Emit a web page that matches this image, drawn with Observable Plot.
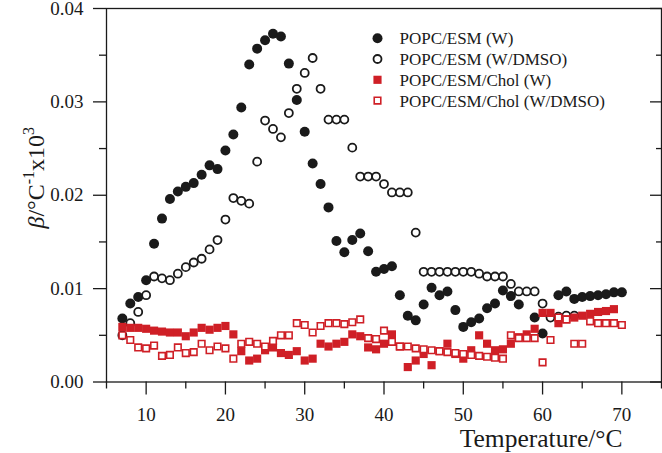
<!DOCTYPE html>
<html>
<head>
<meta charset="utf-8">
<script src="https://cdn.jsdelivr.net/npm/d3@7"></script>
<script src="https://cdn.jsdelivr.net/npm/@observablehq/plot@0.6"></script>
<style>
  html, body { margin: 0; padding: 0; background: white; }
</style>
</head>
<body>
<div id="chart"></div>
<script>
// ---- Data ----
const seriesNames = ["POPC/ESM (W)", "POPC/ESM (W/DMSO)", "POPC/ESM/Chol (W)", "POPC/ESM/Chol (W/DMSO)"];

const tempW = [7,8,9,10,11,12,13,14,15,16,17,18,19,20,21,22,23,24,25,26,27,28,29,30,31,32,33,34,35,36,37,38,39,40,41,42,43,44,45,46,47,48,49,50,51,52,53,54,55,56,57,59,60,62,63,64,65,66,67,68,69,70];
const betaW = [0.0068,0.0084,0.0091,0.0109,0.0148,0.0175,0.0196,0.0204,0.0209,0.0213,0.0222,0.0232,0.0228,0.0248,0.0265,0.0294,0.0340,0.0357,0.0366,0.0373,0.0370,0.0341,0.0302,0.0268,0.0234,0.0212,0.0187,0.0151,0.0139,0.0152,0.0159,0.0140,0.0118,0.0121,0.0124,0.0093,0.0071,0.0066,0.0083,0.0101,0.0093,0.0097,0.0077,0.0059,0.0064,0.0068,0.0079,0.0084,0.0098,0.0092,0.0083,0.0069,0.0052,0.0093,0.0097,0.0089,0.0091,0.0092,0.0093,0.0094,0.0096,0.0096];

const tempWD = [7,8,9,10,11,12,13,14,15,16,17,18,19,20,21,22,23,24,25,26,27,28,29,30,31,32,33,34,35,36,37,38,39,40,41,42,43,44,45,46,47,48,49,50,51,52,53,54,55,56,57,58,59,60,61,62,63,64];
const betaWD = [0.0050,0.0063,0.0075,0.0093,0.0113,0.0111,0.0109,0.0116,0.0123,0.0128,0.0132,0.0142,0.0152,0.0174,0.0197,0.0194,0.0191,0.0236,0.0280,0.0271,0.0262,0.0288,0.0314,0.0331,0.0347,0.0314,0.0281,0.0281,0.0281,0.0251,0.0220,0.0220,0.0220,0.0212,0.0203,0.0203,0.0203,0.0160,0.0118,0.0118,0.0118,0.0118,0.0118,0.0118,0.0118,0.0116,0.0113,0.0113,0.0113,0.0105,0.0097,0.0097,0.0097,0.0084,0.0069,0.0070,0.0071,0.0071];

const tempCW = [7,8,9,10,11,12,13,14,15,16,17,18,19,20,21,22,23,24,25,26,27,28,29,30,31,32,33,34,35,36,37,38,39,40,41,42,43,44,45,46,47,48,49,50,51,52,53,54,55,56,57,58,59,60,61,62,63,64,65,66,67,68,69];
const betaCW = [0.0059,0.0058,0.0058,0.0057,0.0055,0.0054,0.0053,0.0053,0.0049,0.0053,0.0058,0.0056,0.0058,0.0060,0.0051,0.0033,0.0023,0.0025,0.0034,0.0037,0.0031,0.0029,0.0033,0.0023,0.0025,0.0041,0.0038,0.0041,0.0043,0.0051,0.0049,0.0037,0.0035,0.0041,0.0051,0.0038,0.0016,0.0023,0.0030,0.0018,0.0033,0.0041,0.0030,0.0025,0.0034,0.0050,0.0041,0.0034,0.0035,0.0041,0.0048,0.0051,0.0057,0.0074,0.0074,0.0063,0.0067,0.0069,0.0071,0.0073,0.0075,0.0076,0.0078];

const tempCWD = [7,8,9,10,11,12,13,14,15,16,17,18,19,20,21,22,23,24,25,26,27,28,29,30,31,32,33,34,35,36,37,38,39,40,41,42,43,44,45,46,47,48,49,50,51,52,53,54,55,56,57,58,59,60,61,62,63,64,65,66,67,68,69,70];
const betaCWD = [0.0050,0.0045,0.0037,0.0036,0.0039,0.0028,0.0029,0.0037,0.0031,0.0032,0.0041,0.0034,0.0038,0.0036,0.0025,0.0041,0.0043,0.0041,0.0038,0.0044,0.0050,0.0050,0.0063,0.0061,0.0053,0.0060,0.0063,0.0063,0.0062,0.0064,0.0067,0.0047,0.0046,0.0055,0.0043,0.0038,0.0038,0.0036,0.0035,0.0034,0.0033,0.0032,0.0031,0.0030,0.0029,0.0028,0.0027,0.0026,0.0025,0.0050,0.0047,0.0047,0.0047,0.0021,0.0045,0.0069,0.0067,0.0041,0.0041,0.0065,0.0063,0.0063,0.0063,0.0061];

const xMajorTicks = [10,20,30,40,50,60,70];
const xMinorTicks = [5,15,25,35,45,55,65,75];
const yMajorTicks = [0,0.01,0.02,0.03,0.04];
const yMinorTicks = [0.005,0.015,0.025,0.035];

const xTitle = "Temperature/°C";
const yTitle = "β/°C-1x103";

// ---- Build tables ----
const toRows = (ts, vs) => ts.map((t, i) => ({t, v: vs[i]}));
const rowsW = toRows(tempW, betaW);
const rowsWD = toRows(tempWD, betaWD);
const rowsCW = toRows(tempCW, betaCW);
const rowsCWD = toRows(tempCWD, betaCWD);

const RED = "#cf1f26";
const INK = "#1a1a1a";

const styles = [
  {symbol: "circle", r: 5, fill: INK, stroke: "none", strokeWidth: 0},
  {symbol: "circle", r: 4, fill: "white", stroke: INK, strokeWidth: 1.8},
  {symbol: "square", r: 4.6, fill: RED, stroke: "none", strokeWidth: 0},
  {symbol: "square", r: 3.7, fill: "white", stroke: RED, strokeWidth: 1.6}
];
const tables = [rowsW, rowsWD, rowsCW, rowsCWD];

const dataMarks = tables.map((rows, i) => Plot.dot(rows, {x: "t", y: "v", ...styles[i]}));

const legendMarks = seriesNames.flatMap((name, i) => [
  Plot.dot([name], {frameAnchor: "top-left", dx: 271, dy: 29.7 + i * 20.8, ...styles[i]}),
  Plot.text([name], {text: d => d, frameAnchor: "top-left", dx: 293, dy: 30.5 + i * 20.8,
    textAnchor: "start", lineAnchor: "middle", fontSize: 17, fill: INK})
]);

const chart = Plot.plot({
  width: 662,
  height: 453,
  marginLeft: 106,
  marginRight: 1,
  marginTop: 8,
  marginBottom: 71.5,
  style: {fontFamily: "'Liberation Serif','Times New Roman',serif", fontSize: "19px", color: INK, background: "white", overflow: "visible"},
  x: {domain: [5, 75]},
  y: {domain: [0, 0.04]},
  marks: [
    Plot.frame({stroke: INK, strokeWidth: 1.3}),
    Plot.axisX({ticks: xMajorTicks, tickSize: 13, tickPadding: 12, tickFormat: d => String(d), label: null, strokeWidth: 1.3}),
    Plot.axisX({ticks: xMinorTicks, tickSize: 7, tickFormat: () => "", label: null, strokeWidth: 1.3}),
    Plot.axisY({ticks: yMajorTicks, tickSize: 13, tickPadding: 10, tickFormat: d3.format(".2f"), label: null, strokeWidth: 1.3}),
    Plot.axisY({ticks: yMinorTicks, tickSize: 7, tickFormat: () => "", label: null, strokeWidth: 1.3}),
    Plot.axisY({anchor: "right", ticks: yMajorTicks, tickSize: 12, dx: -12, tickFormat: () => "", label: null, strokeWidth: 1.3}),
    Plot.axisY({anchor: "right", ticks: yMinorTicks, tickSize: 6, dx: -6, tickFormat: () => "", label: null, strokeWidth: 1.3}),
    ...dataMarks,
    ...legendMarks,
    Plot.text([xTitle], {text: d => d, frameAnchor: "bottom-right", dx: -39, dy: 64.5, fontSize: 25.5,
      textAnchor: "end", lineAnchor: "bottom", fill: INK}),
    Plot.text([yTitle], {text: d => d, frameAnchor: "left", rotate: -90, dx: -63, dy: -17.5, fontSize: 24,
      textAnchor: "middle", lineAnchor: "bottom", fill: INK})
  ]
});

// Rich-text y title with italic beta and superscripts
d3.select(chart).selectAll("text").filter(function () { return this.textContent === yTitle; }).each(function () {
  const t = d3.select(this);
  t.text("");
  t.append("tspan").attr("font-style", "italic").text("β");
  t.append("tspan").text("/°C");
  t.append("tspan").attr("font-size", 16).attr("dy", -10).text("-1");
  t.append("tspan").attr("dy", 10).text("x10");
  t.append("tspan").attr("font-size", 16).attr("dy", -10).text("3");
});

document.getElementById("chart").appendChild(chart);
</script>
</body>
</html>
